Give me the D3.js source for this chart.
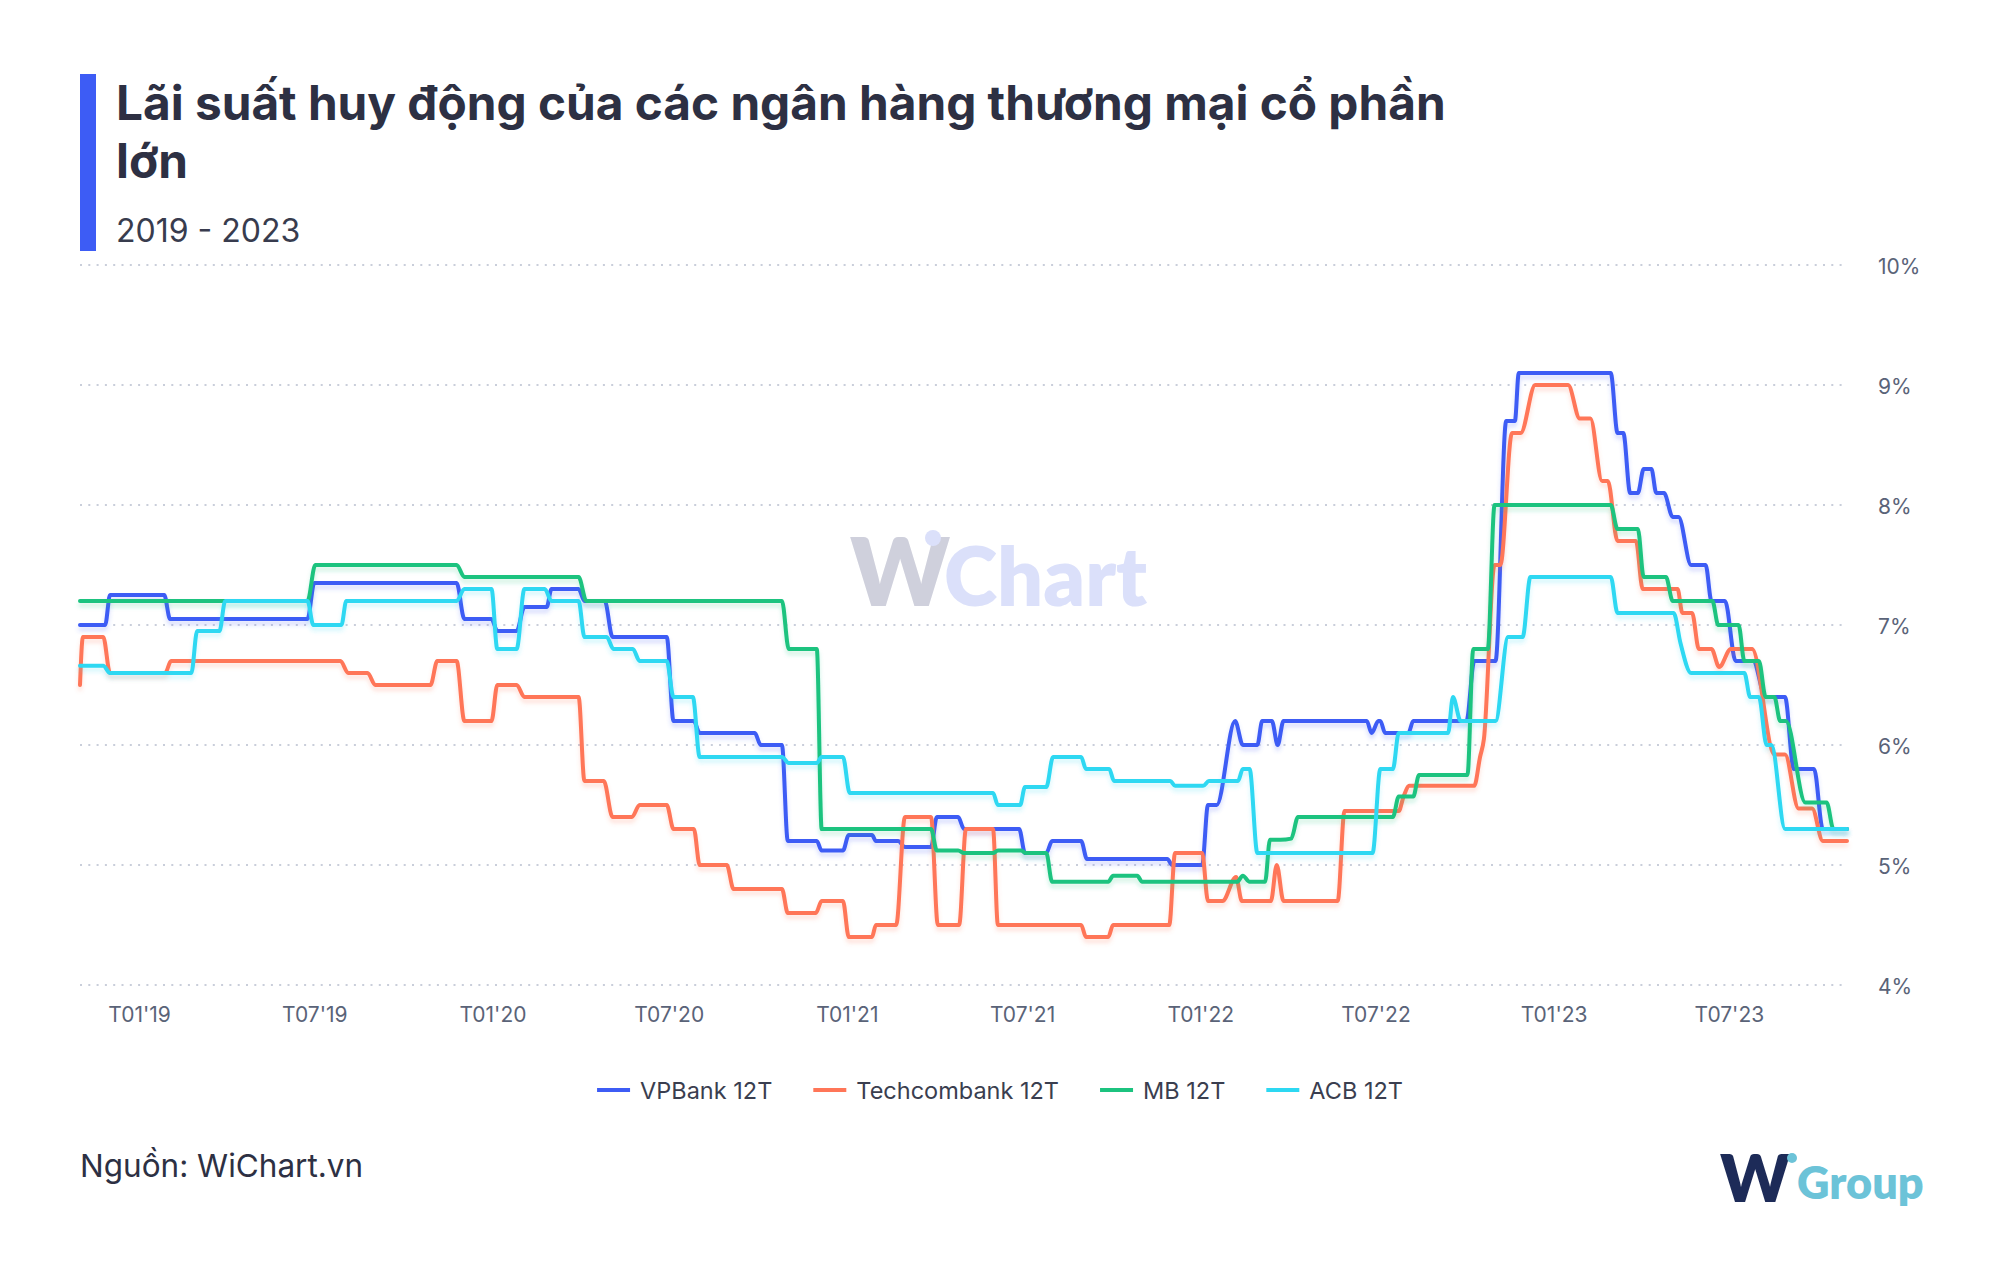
<!DOCTYPE html>
<html><head><meta charset="utf-8">
<script src="https://cdn.jsdelivr.net/npm/d3@7"></script>
<style>
html,body{margin:0;padding:0;background:#fff;}
svg{display:block;font-family:Inter,"Noto Sans",sans-serif;}
</style></head>
<body>
<svg id="chart" width="2000" height="1263"></svg>
<script>
// ---------- DATA ----------
const seriesNames = ["VPBank 12T", "Techcombank 12T", "MB 12T", "ACB 12T"];
const seriesColors = ["#3d5cf5", "#ff7658", "#1cc37f", "#2dd8f2"];
const yTicks = [4, 5, 6, 7, 8, 9, 10];
const xTickDates = ["2019-01-01","2019-07-01","2020-01-01","2020-07-01","2021-01-01","2021-07-01","2022-01-01","2022-07-01","2023-01-01","2023-07-01"];
const xTickLabels = ["T01'19","T07'19","T01'20","T07'20","T01'21","T07'21","T01'22","T07'22","T01'23","T07'23"];

const vpbank = [
["2018-11-01",7.0],["2018-11-27",7.0],["2018-12-02",7.25],["2019-01-27",7.25],["2019-02-02",7.05],["2019-06-24",7.05],["2019-07-01",7.35],["2019-11-25",7.35],["2019-12-03",7.05],["2019-12-31",7.05],["2020-01-06",6.95],["2020-01-26",6.95],["2020-02-03",7.15],["2020-02-26",7.15],["2020-03-02",7.3],["2020-03-30",7.3],["2020-04-05",7.2],["2020-04-26",7.2],["2020-05-04",6.9],["2020-06-29",6.9],["2020-07-06",6.2],["2020-07-27",6.2],["2020-08-02",6.1],["2020-09-28",6.1],["2020-10-04",6.0],["2020-10-26",6.0],["2020-11-01",5.2],["2020-12-01",5.2],["2020-12-06",5.12],["2020-12-28",5.12],["2021-01-03",5.25],["2021-01-27",5.25],["2021-01-31",5.2],["2021-02-23",5.2],["2021-03-02",5.15],["2021-03-29",5.15],["2021-04-04",5.4],["2021-04-26",5.4],["2021-05-02",5.3],["2021-06-28",5.3],["2021-07-04",5.1],["2021-07-26",5.1],["2021-08-01",5.2],["2021-08-31",5.2],["2021-09-06",5.05],["2021-11-28",5.05],["2021-12-03",5.0],["2022-01-03",5.0],["2022-01-09",5.5],["2022-01-18",5.5],["2022-02-06",6.2],["2022-02-14",6.0],["2022-03-01",6.0],["2022-03-06",6.2],["2022-03-16",6.2],["2022-03-22",6.0],["2022-03-28",6.2],["2022-06-22",6.2],["2022-06-27",6.1],["2022-07-04",6.2],["2022-07-06",6.2],["2022-07-11",6.1],["2022-08-04",6.1],["2022-08-09",6.2],["2022-10-03",6.2],["2022-10-11",6.7],["2022-11-02",6.7],["2022-11-13",8.7],["2022-11-22",8.7],["2022-11-26",9.1],["2023-03-01",9.1],["2023-03-08",8.6],["2023-03-14",8.6],["2023-03-21",8.1],["2023-03-29",8.1],["2023-04-04",8.3],["2023-04-12",8.3],["2023-04-17",8.1],["2023-04-25",8.1],["2023-05-04",7.9],["2023-05-10",7.9],["2023-05-23",7.5],["2023-06-07",7.5],["2023-06-13",7.2],["2023-06-27",7.2],["2023-07-08",6.7],["2023-07-26",6.7],["2023-08-08",6.4],["2023-08-28",6.4],["2023-09-06",5.8],["2023-09-27",5.8],["2023-10-06",5.3],["2023-10-31",5.3]
];

const techcombank = [
["2018-11-01",6.5],["2018-11-04",6.9],["2018-11-25",6.9],["2018-12-02",6.6],["2019-01-28",6.6],["2019-02-03",6.7],["2019-07-28",6.7],["2019-08-05",6.6],["2019-08-25",6.6],["2019-09-02",6.5],["2019-10-29",6.5],["2019-11-05",6.7],["2019-11-25",6.7],["2019-12-03",6.2],["2019-12-31",6.2],["2020-01-06",6.5],["2020-01-26",6.5],["2020-02-03",6.4],["2020-03-30",6.4],["2020-04-05",5.7],["2020-04-25",5.7],["2020-05-04",5.4],["2020-05-24",5.4],["2020-06-01",5.5],["2020-06-29",5.5],["2020-07-06",5.3],["2020-07-27",5.3],["2020-08-02",5.0],["2020-08-30",5.0],["2020-09-06",4.8],["2020-10-26",4.8],["2020-11-01",4.6],["2020-11-30",4.6],["2020-12-06",4.7],["2020-12-28",4.7],["2021-01-03",4.4],["2021-01-27",4.4],["2021-01-31",4.5],["2021-02-21",4.5],["2021-03-02",5.4],["2021-03-29",5.4],["2021-04-05",4.5],["2021-04-27",4.5],["2021-05-04",5.3],["2021-06-01",5.3],["2021-06-06",4.5],["2021-08-31",4.5],["2021-09-05",4.4],["2021-09-28",4.4],["2021-10-03",4.5],["2021-11-30",4.5],["2021-12-06",5.1],["2022-01-03",5.1],["2022-01-09",4.7],["2022-01-24",4.7],["2022-02-07",4.9],["2022-02-13",4.7],["2022-03-15",4.7],["2022-03-21",5.0],["2022-03-28",4.7],["2022-05-23",4.7],["2022-05-30",5.45],["2022-07-25",5.45],["2022-07-30",5.57],["2022-08-05",5.66],["2022-10-11",5.66],["2022-10-17",5.9],["2022-10-21",6.05],["2022-11-01",7.5],["2022-11-07",7.5],["2022-11-19",8.6],["2022-11-28",8.6],["2022-12-13",9.0],["2023-01-16",9.0],["2023-01-28",8.72],["2023-02-08",8.72],["2023-02-20",8.2],["2023-02-26",8.2],["2023-03-08",7.7],["2023-03-27",7.7],["2023-04-03",7.3],["2023-05-09",7.3],["2023-05-14",7.1],["2023-05-24",7.1],["2023-05-31",6.8],["2023-06-13",6.8],["2023-06-21",6.65],["2023-07-03",6.8],["2023-07-25",6.8],["2023-08-17",5.92],["2023-08-28",5.92],["2023-09-11",5.47],["2023-09-25",5.47],["2023-10-06",5.2],["2023-10-31",5.2]
];

const mb = [
["2018-11-01",7.2],["2019-06-24",7.2],["2019-07-02",7.5],["2019-11-25",7.5],["2019-12-03",7.4],["2020-03-30",7.4],["2020-04-07",7.2],["2020-10-26",7.2],["2020-11-02",6.8],["2020-12-01",6.8],["2020-12-06",5.3],["2021-03-29",5.3],["2021-04-04",5.12],["2021-04-26",5.12],["2021-05-02",5.1],["2021-06-01",5.1],["2021-06-06",5.12],["2021-06-30",5.12],["2021-07-05",5.1],["2021-07-26",5.1],["2021-08-01",4.86],["2021-09-28",4.86],["2021-10-03",4.91],["2021-10-28",4.91],["2021-11-02",4.86],["2022-02-08",4.86],["2022-02-14",4.91],["2022-02-21",4.86],["2022-03-09",4.86],["2022-03-14",5.21],["2022-03-25",5.21],["2022-04-05",5.22],["2022-04-12",5.4],["2022-07-19",5.4],["2022-07-25",5.57],["2022-08-09",5.57],["2022-08-15",5.75],["2022-10-04",5.75],["2022-10-10",6.8],["2022-10-25",6.8],["2022-11-01",8.0],["2023-03-01",8.0],["2023-03-08",7.8],["2023-03-29",7.8],["2023-04-04",7.4],["2023-04-27",7.4],["2023-05-04",7.2],["2023-06-14",7.2],["2023-06-20",7.0],["2023-07-11",7.0],["2023-07-17",6.7],["2023-08-01",6.7],["2023-08-08",6.4],["2023-08-17",6.4],["2023-08-23",6.2],["2023-08-29",6.2],["2023-09-18",5.52],["2023-10-10",5.52],["2023-10-17",5.3],["2023-10-31",5.3]
];

const acb = [
["2018-11-01",6.66],["2018-11-25",6.66],["2018-12-02",6.6],["2019-02-24",6.6],["2019-03-02",6.95],["2019-03-25",6.95],["2019-03-31",7.2],["2019-06-24",7.2],["2019-06-30",7.0],["2019-07-29",7.0],["2019-08-03",7.2],["2019-11-25",7.2],["2019-12-03",7.3],["2019-12-31",7.3],["2020-01-06",6.8],["2020-01-26",6.8],["2020-02-03",7.3],["2020-02-24",7.3],["2020-03-02",7.2],["2020-03-30",7.2],["2020-04-05",6.9],["2020-04-28",6.9],["2020-05-05",6.8],["2020-05-25",6.8],["2020-06-01",6.7],["2020-06-29",6.7],["2020-07-06",6.4],["2020-07-26",6.4],["2020-08-02",5.9],["2020-10-26",5.9],["2020-11-02",5.85],["2020-12-01",5.85],["2020-12-06",5.9],["2020-12-28",5.9],["2021-01-04",5.6],["2021-06-01",5.6],["2021-06-06",5.5],["2021-06-29",5.5],["2021-07-04",5.65],["2021-07-26",5.65],["2021-08-02",5.9],["2021-08-31",5.9],["2021-09-05",5.8],["2021-09-29",5.8],["2021-10-04",5.7],["2021-12-01",5.7],["2021-12-06",5.66],["2022-01-04",5.66],["2022-01-10",5.7],["2022-02-09",5.7],["2022-02-14",5.8],["2022-02-21",5.8],["2022-03-01",5.1],["2022-06-28",5.1],["2022-07-06",5.8],["2022-07-19",5.8],["2022-07-25",6.1],["2022-09-14",6.1],["2022-09-19",6.4],["2022-09-27",6.2],["2022-11-02",6.2],["2022-11-15",6.9],["2022-11-30",6.9],["2022-12-08",7.4],["2023-03-01",7.4],["2023-03-08",7.1],["2023-05-05",7.1],["2023-05-12",6.85],["2023-05-23",6.6],["2023-07-17",6.6],["2023-07-23",6.4],["2023-08-01",6.4],["2023-08-09",6.0],["2023-08-14",6.0],["2023-08-28",5.3],["2023-10-31",5.3]
];

const seriesData = [vpbank, techcombank, mb, acb];

// ---------- CHART ----------
(function () {
const svg = d3.select("#chart");
const parse = d3.timeParse("%Y-%m-%d");
const pL = 80, pR = 1847, pT = 265, pB = 985;

const x = d3.scaleTime().domain([parse("2018-11-01"), parse("2023-10-31")]).range([pL, pR]);
const y = d3.scaleLinear().domain([4, 10]).range([pB, pT]);

const defs = svg.append("defs");
seriesColors.forEach((c, i) => {
  const f = defs.append("filter").attr("id", "sh" + i)
    .attr("filterUnits", "userSpaceOnUse").attr("x", 0).attr("y", 0).attr("width", 2000).attr("height", 1263);
  f.append("feDropShadow").attr("dx", 0).attr("dy", 4).attr("stdDeviation", 2.2)
    .attr("flood-color", c).attr("flood-opacity", 0.22);
});

// title block
svg.append("rect").attr("x", 80).attr("y", 74).attr("width", 16).attr("height", 177).attr("fill", "#3d5cf5");
const title = svg.append("g").attr("fill", "#2d3043").attr("font-weight", 700);
const t1 = title.append("text").attr("x", 116).attr("y", 120).attr("font-size", 46)
  .text("Lãi suất huy động của các ngân hàng thương mại cổ phần");
const w1 = t1.node().getComputedTextLength();
const fs = w1 > 0 ? 46 * 1330 / w1 : 46;
t1.attr("font-size", fs);
title.append("text").attr("x", 116).attr("y", 178).attr("font-size", fs).text("lớn");
svg.append("text").attr("x", 116).attr("y", 242).attr("font-size", 32).attr("fill", "#383c4e").text("2019 - 2023");

// watermark
const wm = svg.append("g").attr("font-family", "Lato, Inter, sans-serif").attr("font-weight", 800);
wm.append("text").attr("x", 850).attr("y", 606).attr("font-size", 94)
  .attr("fill", "#cfd0dc").text("W");
wm.append("circle").attr("cx", 933).attr("cy", 538).attr("r", 8).attr("fill", "#dbe0fa");
wm.append("text").attr("x", 944).attr("y", 606).attr("font-size", 81)
  .attr("fill", "#dbe0fa").text("Chart");

// grid
svg.append("g").selectAll("line").data(yTicks).join("line")
  .attr("x1", pL).attr("x2", 1842).attr("y1", d => y(d)).attr("y2", d => y(d))
  .attr("stroke", "#c9ceda").attr("stroke-width", 2).attr("stroke-dasharray", "2 6.3");

// axes
const xAxis = d3.axisBottom(x).tickValues(xTickDates.map(parse)).tickSize(0).tickPadding(22)
  .tickFormat((d, i) => xTickLabels[i]);
const gx = svg.append("g").attr("transform", `translate(0,${pB})`).call(xAxis);
gx.select(".domain").remove();
gx.selectAll("text").attr("font-size", 21).attr("fill", "#5a6378").attr("font-family", "Inter, sans-serif");

const yAxis = d3.axisRight(y).tickValues(yTicks).tickSize(0).tickPadding(0).tickFormat(d => d + "%");
const gy = svg.append("g").attr("transform", `translate(1878,2)`).call(yAxis);
gy.select(".domain").remove();
gy.selectAll("text").attr("font-size", 21).attr("fill", "#5a6378").attr("font-family", "Inter, sans-serif");

// lines
const line = d3.line().x(d => x(parse(d[0]))).y(d => y(d[1])).curve(d3.curveMonotoneX);
svg.append("g").selectAll("path").data(seriesData).join("path")
  .attr("d", d => line(d))
  .attr("fill", "none")
  .attr("stroke", (d, i) => seriesColors[i])
  .attr("stroke-width", 4)
  .attr("stroke-linejoin", "round")
  .attr("stroke-linecap", "round")
  .attr("filter", (d, i) => `url(#sh${i})`);

// legend
const lg = svg.append("g");
let lx = 0;
seriesNames.forEach((n, i) => {
  const g = lg.append("g");
  g.append("rect").attr("x", 0).attr("y", -2).attr("width", 33).attr("height", 4).attr("fill", seriesColors[i]);
  const t = g.append("text").attr("x", 43).attr("y", 8.5).attr("font-size", 23.5).attr("fill", "#3a3e4f").text(n);
  const w = 43 + t.node().getComputedTextLength();
  g.attr("transform", `translate(${lx},1090)`);
  lx += w + 41;
});
const totalW = lx - 41;
lg.attr("transform", `translate(${1000 - totalW / 2},0)`);

// footer
svg.append("text").attr("x", 80).attr("y", 1177).attr("font-size", 31.5).attr("fill", "#2d3043").text("Nguồn: WiChart.vn");
const logo = svg.append("g").attr("font-family", "Lato, Inter, sans-serif").attr("font-weight", 800);
logo.append("text").attr("x", 1720).attr("y", 1202).attr("font-size", 66).attr("fill", "#1d2b58").text("W");
logo.append("circle").attr("cx", 1792).attr("cy", 1158).attr("r", 5).attr("fill", "#6cc3d8");
logo.append("text").attr("x", 1797).attr("y", 1199).attr("font-size", 45).attr("fill", "#6cc3d8").text("Group");
})();
</script>
</body></html>
